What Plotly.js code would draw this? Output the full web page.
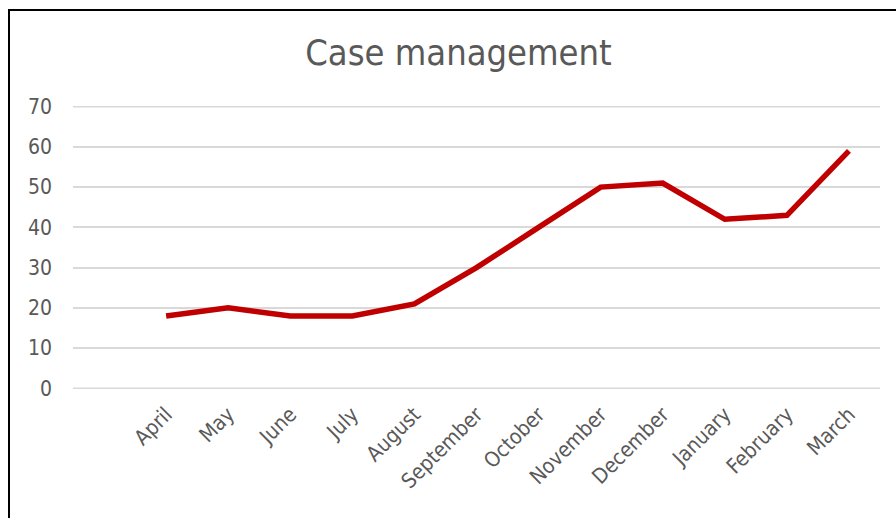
<!DOCTYPE html>
<html>
<head>
<meta charset="utf-8">
<script src="https://cdn.plot.ly/plotly-3.0.1.min.js"></script>
<style>
  html, body { margin: 0; padding: 0; background: #fff; }
  #wrap { position: relative; width: 896px; height: 518px; overflow: hidden; }
  #chart { position: absolute; left: 0; top: 0; width: 896px; height: 518px; }
  #frame { position: absolute; left: 8px; top: 9px; width: 900px; height: 520px;
           border-left: 2px solid #000; border-top: 2px solid #000; pointer-events: none; }
</style>
</head>
<body>
<div id="wrap">
  <div id="chart"></div>
  <div id="frame"></div>
</div>
<script>
const chartTitle = "Case management";
const months = ["April", "May", "June", "July", "August", "September", "October",
                "November", "December", "January", "February", "March"];
const cases = [18, 20, 18, 18, 21, 30, 40, 50, 51, 42, 43, 59];
const yTicks = [0, 10, 20, 30, 40, 50, 60, 70];

const FONT = '"DejaVu Sans Condensed", "DejaVu Sans", sans-serif';
const TEXT = '#595959';
const GRID = '#d9d9d9';

const trace = {
  type: 'scatter',
  mode: 'lines',
  x: months,
  y: cases,
  line: { color: '#c00000', width: 5.5, shape: 'linear' },
  hoverinfo: 'x+y'
};

// boundary gridlines (0 and 70) drawn as shapes in data coordinates
const edgeLines = [yTicks[0], yTicks[yTicks.length - 1]].map(v => ({
  type: 'line', xref: 'paper', yref: 'y', x0: 0, x1: 1, y0: v, y1: v,
  line: { color: GRID, width: 2 }, layer: 'below'
}));

const layout = {
  width: 896,
  height: 518,
  margin: { l: 73, r: 16, t: 106, b: 129 },
  paper_bgcolor: '#ffffff',
  plot_bgcolor: '#ffffff',
  showlegend: false,
  title: {
    text: chartTitle,
    font: { family: FONT, size: 36, color: TEXT },
    xref: 'container', x: 0.5117,
    yref: 'container', y: 1 - 52 / 518,
    xanchor: 'center', yanchor: 'middle'
  },
  shapes: edgeLines,
  xaxis: {
    type: 'category',
    categoryarray: months,
    range: [-1.5, 11.5],
    showgrid: false,
    zeroline: false,
    showline: false,
    ticks: '',
    tickangle: -45,
    ticklabelstandoff: 8,
    tickfont: { family: FONT, size: 21, color: TEXT },
    fixedrange: true
  },
  yaxis: {
    range: [-0.15, 70.15],
    tickvals: yTicks,
    ticktext: yTicks.map(String),
    showgrid: true,
    gridcolor: GRID,
    gridwidth: 2,
    zeroline: false,
    showline: false,
    ticks: '',
    ticklabelstandoff: 20,
    tickfont: { family: FONT, size: 21, color: TEXT },
    fixedrange: true
  }
};

Plotly.newPlot('chart', [trace], layout, { displayModeBar: false, staticPlot: true });
</script>
</body>
</html>
